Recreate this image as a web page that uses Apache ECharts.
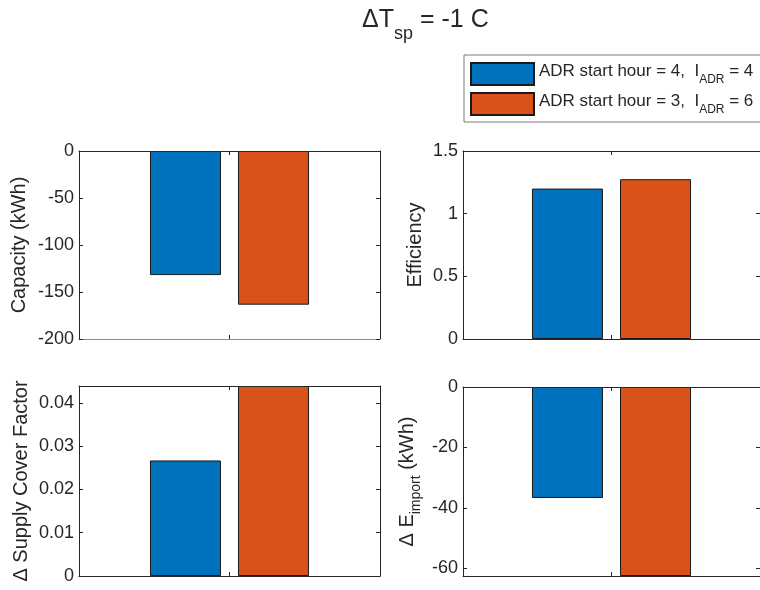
<!DOCTYPE html>
<html>
<head>
<meta charset="utf-8">
<title></title>
<script src="https://cdn.jsdelivr.net/npm/echarts@6/dist/echarts.min.js"></script>
<style>
  html, body { margin: 0; background: #fff; }
  #main { width: 760px; height: 590px; }
</style>
</head>
<body>
<div id="main"></div>
<script>
var categories = ['1'];
var startHours = [4, 3];
var lAdr = [4, 6];
var barColors = ['#0072BD', '#D95319'];
var capacity = [-132, -163.5];
var efficiency = [1.2, 1.275];
var supplyCover = [0.0267, 0.0439];
var eImport = [-36.7, -62.5];

var FONT = 'Liberation Sans, Arial, Helvetica, sans-serif';
var INK = '#262626';

var panels = [
  { grid: { left: 79, top: 151, width: 301, height: 188 }, data: capacity, min: -200, max: 0, interval: 50,
    name: 'Capacity (kWh)', nameGap: 50, bottomColor: '#8c8c8c' },
  { grid: { left: 463, top: 151, width: 302, height: 188 }, data: efficiency, min: 0, max: 1.5, interval: 0.5,
    name: 'Efficiency', nameGap: 38 },
  { grid: { left: 79, top: 386, width: 301, height: 190 }, data: supplyCover, min: 0, max: 0.0439, interval: 0.01,
    name: 'Δ Supply Cover Factor', nameGap: 48, hideMax: true },
  { grid: { left: 463, top: 387, width: 302, height: 189 }, data: eImport, min: -62.5, max: 0, splitNumber: 3,
    name: '{m|Δ E}{s|import}{m| (kWh)}', nameGap: 40, hideMin: true }
];

var seriesNames = startHours.map(function (h, i) { return 'ADR start hour = ' + h + ', lADR = ' + lAdr[i]; });

var grids = [], xAxes = [], yAxes = [], series = [];
var tick = { show: true, inside: true, length: 4, lineStyle: { color: INK, width: 1 } };

panels.forEach(function (p, i) {
  grids.push(p.grid);
  // bottom and top x axis, so the plot gets a closed box like matlab
  xAxes.push({
    type: 'category', gridIndex: i, position: 'bottom', data: categories, z: 5,
    axisLine: { onZero: false, lineStyle: { color: p.bottomColor || INK, width: 1 } },
    axisTick: Object.assign({ alignWithLabel: true }, tick),
    axisLabel: { show: false }, splitLine: { show: false }
  });
  xAxes.push({
    type: 'category', gridIndex: i, position: 'top', data: categories, z: 5,
    axisLine: { onZero: false, lineStyle: { color: INK, width: 1 } },
    axisTick: Object.assign({ alignWithLabel: true }, tick),
    axisLabel: { show: false }, splitLine: { show: false }
  });
  var yBase = {
    type: 'value', gridIndex: i, min: p.min, max: p.max, z: 5,
    axisLine: { show: true, onZero: false, lineStyle: { color: INK, width: 1 } },
    axisTick: tick, splitLine: { show: false }
  };
  if (p.interval) yBase.interval = p.interval;
  if (p.splitNumber) yBase.splitNumber = p.splitNumber;
  yAxes.push(Object.assign({}, yBase, {
    position: 'left',
    name: p.name, nameLocation: 'middle', nameRotate: 90, nameGap: p.nameGap,
    nameTextStyle: {
      color: INK, fontFamily: FONT, fontSize: 20,
      rich: {
        m: { color: INK, fontFamily: FONT, fontSize: 20, verticalAlign: 'top' },
        s: { color: INK, fontFamily: FONT, fontSize: 14, verticalAlign: 'top', padding: [12, 0, 0, 0] }
      }
    },
    axisLabel: {
      color: INK, fontFamily: FONT, fontSize: 18, margin: 5,
      showMinLabel: !p.hideMin, showMaxLabel: !p.hideMax
    }
  }));
  yAxes.push(Object.assign({}, yBase, { position: 'right', axisLabel: { show: false } }));

  p.data.forEach(function (v, k) {
    series.push({
      name: seriesNames[k], type: 'bar', xAxisIndex: 2 * i, yAxisIndex: 2 * i,
      data: [v], barWidth: 71, barGap: '24%',
      itemStyle: { color: barColors[k], borderColor: '#1a1a1a', borderWidth: 1 },
      emphasis: { disabled: true }
    });
  });
});

var chart = echarts.init(document.getElementById('main'));
chart.setOption({
  animation: false,
  title: {
    text: '{m|ΔT}{s|sp}{m| = -1 C}', left: 357, top: 3,
    textStyle: {
      fontWeight: 'normal',
      rich: {
        m: { color: INK, fontFamily: FONT, fontSize: 25, fontWeight: 'normal', verticalAlign: 'top' },
        s: { color: INK, fontFamily: FONT, fontSize: 18, fontWeight: 'normal', verticalAlign: 'top', padding: [17, 0, 0, 0] }
      }
    }
  },
  legend: {
    data: seriesNames, orient: 'vertical', left: 464, top: 55,
    itemWidth: 63, itemHeight: 22, itemGap: 6, icon: 'rect',
    padding: [7, 10, 6, 6], borderColor: '#7a7a7a', borderWidth: 1, backgroundColor: '#fff',
    selectedMode: false,
    formatter: function (name) {
      var k = seriesNames.indexOf(name);
      return '{m|ADR start hour = ' + startHours[k] + ',  I}{s|ADR}{m| = ' + lAdr[k] + '}';
    },
    textStyle: {
      rich: {
        m: { color: INK, fontFamily: FONT, fontSize: 17, verticalAlign: 'top' },
        s: { color: INK, fontFamily: FONT, fontSize: 12, verticalAlign: 'top', padding: [11, 0, 0, 0] }
      }
    }
  },
  grid: grids,
  xAxis: xAxes,
  yAxis: yAxes,
  series: series
});
</script>
</body>
</html>
